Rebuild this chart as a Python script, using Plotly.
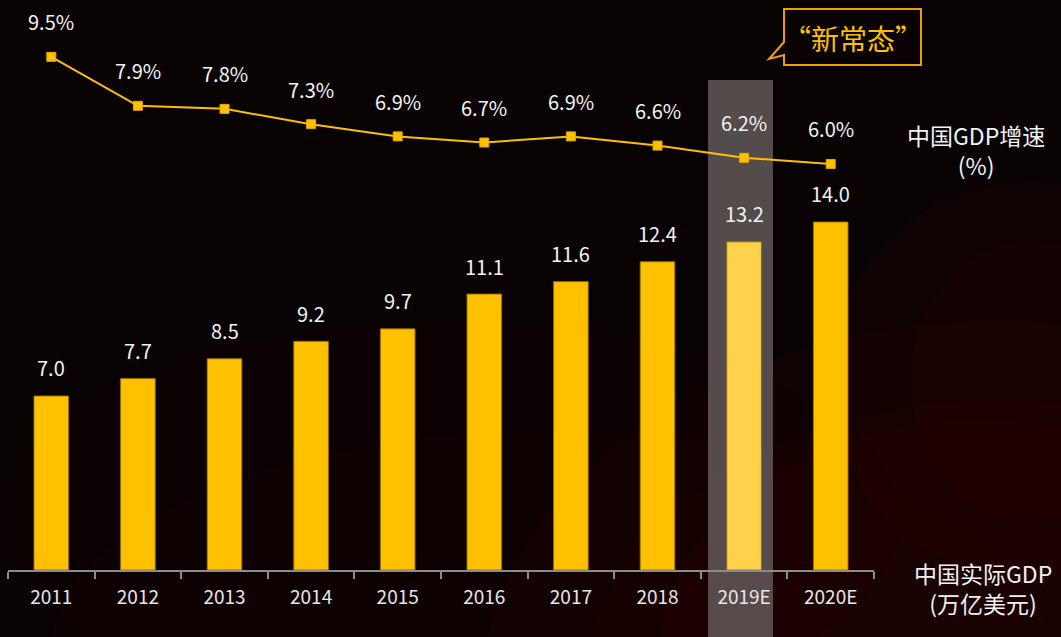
import plotly.graph_objects as go

years = ["2011", "2012", "2013", "2014", "2015", "2016", "2017", "2018", "2019E", "2020E"]
gdp = [7.0, 7.7, 8.5, 9.2, 9.7, 11.1, 11.6, 12.4, 13.2, 14.0]
growth = [9.5, 7.9, 7.8, 7.3, 6.9, 6.7, 6.9, 6.6, 6.2, 6.0]
highlight = "2019E"

FONT = "Noto Sans CJK SC, Noto Sans, sans-serif"
YEL = "#FFC000"
YEL_HL = "#FFD24D"

# plot area pixel geometry (for paper-coordinate decorations)
W, H = 1061, 637
ML, MR, MT, MB = 8, 187, 0, 67
PW = W - ML - MR
PH = H - MT - MB


def px(x):
    return (x - ML) / PW


def py(y):
    return (H - MB - y) / PH


fig = go.Figure()

bar_colors = [YEL_HL if y == highlight else YEL for y in years]
fig.add_trace(go.Bar(
    x=years, y=gdp, width=0.4,
    marker=dict(color=bar_colors, line=dict(color="rgba(150,110,0,0.9)", width=1)),
    hoverinfo="skip", showlegend=False,
))
fig.add_trace(go.Scatter(
    x=years, y=growth, yaxis="y2", mode="lines+markers",
    line=dict(color=YEL, width=2),
    marker=dict(symbol="square", size=9, color=YEL, line=dict(color="#E0A800", width=1)),
    hoverinfo="skip", showlegend=False,
))

ann = []
for i, v in enumerate(gdp):
    ann.append(dict(x=i, y=v, xref="x", yref="y", text=f"{v:.1f}", showarrow=False,
                    xanchor="center", yanchor="middle",
                    yshift=28, font=dict(family=FONT, size=20, color="#F2F2F2")))
for i, v in enumerate(growth):
    ann.append(dict(x=i, y=v, xref="x", yref="y2", text=f"{v:.1f}%", showarrow=False,
                    xanchor="center", yanchor="middle",
                    yshift=35, font=dict(family=FONT, size=20, color="#F2F2F2")))

ann.append(dict(x=px(976), y=py(150), xref="paper", yref="paper", showarrow=False,
                xanchor="center", yanchor="middle",
                text="中国GDP增速<br>(%)", align="center",
                font=dict(family=FONT, size=23, color="#F2F2F2")))
ann.append(dict(x=px(983), y=py(588), xref="paper", yref="paper", showarrow=False,
                xanchor="center", yanchor="middle",
                text="中国实际GDP<br>(万亿美元)", align="center",
                font=dict(family=FONT, size=23, color="#F2F2F2")))
ann.append(dict(x=px(853), y=py(38), xref="paper", yref="paper", showarrow=False,
                xanchor="center", yanchor="middle",
                text="“新常态”", font=dict(family=FONT, size=28, color=YEL)))

shapes = []
# background glows
glows = [
    (1000, 700, 520, 380, "rgba(70,14,2,0.10)"),
    (1000, 700, 420, 300, "rgba(70,14,2,0.10)"),
    (980, 650, 320, 230, "rgba(70,14,2,0.10)"),
    (1030, 380, 200, 200, "rgba(60,8,0,0.12)"),
    (1030, 380, 120, 140, "rgba(60,8,0,0.12)"),
    (550, 650, 500, 220, "rgba(50,10,2,0.10)"),
    (450, 520, 450, 200, "rgba(30,4,2,0.12)"),
]
for cx, cy, rx, ry, col in glows:
    shapes.append(dict(type="circle", xref="paper", yref="paper", layer="below",
                       x0=px(cx - rx), x1=px(cx + rx), y0=py(cy + ry), y1=py(cy - ry),
                       fillcolor=col, line=dict(width=0)))
# highlight column for 2019E
shapes.append(dict(type="rect", xref="paper", yref="paper", layer="below",
                   x0=px(708), x1=px(773), y0=py(H + 10), y1=py(80),
                   fillcolor="rgba(110,100,100,0.75)", line=dict(width=0)))
# callout box with tail
pts = [(784, 9), (921, 9), (921, 65), (784, 65), (784, 55), (769, 59), (784, 42)]
path = "M " + " L ".join(f"{px(a):.5f},{py(b):.5f}" for a, b in pts) + " Z"
shapes.append(dict(type="path", xref="paper", yref="paper", path=path,
                   line=dict(color="#E8A200", width=2), fillcolor="rgba(0,0,0,0)"))

fig.update_layout(
    width=W, height=H,
    margin=dict(l=ML, r=MR, t=MT, b=MB, pad=0),
    paper_bgcolor="#080203", plot_bgcolor="rgba(0,0,0,0)",
    font=dict(family=FONT, color="#F2F2F2"),
    xaxis=dict(type="category", showgrid=False, zeroline=False,
               showline=True, linecolor="#8C8C8C", linewidth=2,
               ticks="outside", tickson="boundaries", ticklen=7, tickwidth=1.5, tickcolor="#8C8C8C",
               ticklabelstandoff=9,
               tickfont=dict(family=FONT, size=19, color="#E6E6E6"), range=[-0.5, 9.5]),
    yaxis=dict(range=[0, PH / 24.86], visible=False, showgrid=False, zeroline=False),
    yaxis2=dict(range=[-7.27, -7.27 + PH / 30.6], overlaying="y", visible=False,
                showgrid=False, zeroline=False),
    annotations=ann, shapes=shapes, showlegend=False,
)

fig.write_html("out.html", config={"displayModeBar": False},
               post_script="document.body.style.margin='0';document.body.style.overflow='hidden';")
